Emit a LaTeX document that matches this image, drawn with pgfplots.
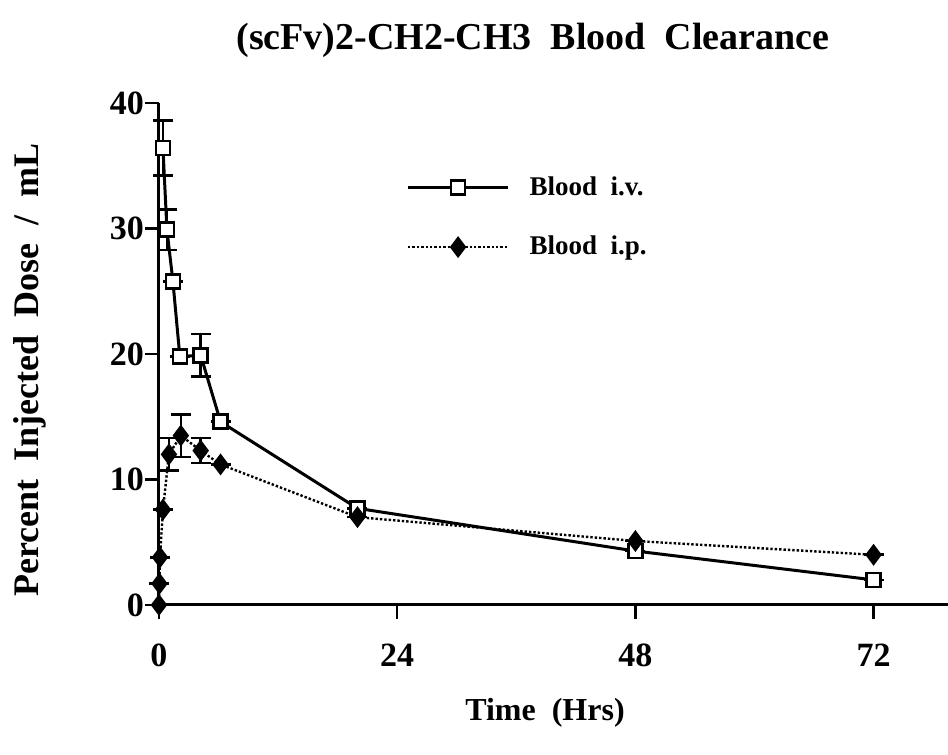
\documentclass[border=0pt]{standalone}
\usepackage{fontspec}
\setmainfont{Liberation Serif}
\usepackage{pgfplots}
\usepackage{pgfplotstable}
\pgfplotsset{compat=1.18}
\pgfplotstableread{
x y e
0.4 36.4 2.2
0.8 29.9 1.6
1.4 25.8 0
2.1 19.8 0
4.2 19.9 1.7
6.2 14.6 0
20 7.7 0
48 4.3 0
72 2.0 0
}\ivdata
\pgfplotstableread{
x y e
0 0 0
0.05 1.7 0
0.1 3.8 0
0.4 7.6 0
1.0 12.0 1.3
2.2 13.5 1.7
4.2 12.3 1.0
6.2 11.2 0
20 7.0 0
48 5.1 0
72 4.0 0
}\ipdata
\begin{document}
\begin{tikzpicture}[x=1pt,y=1pt]
\path[use as bounding box] (0,0) rectangle (474,377.5);
\begin{axis}[
  at={(79.5pt,75pt)}, anchor=south west,
  scale only axis, width=394.5pt, height=251pt,
  xmin=0, xmax=79.5, ymin=0, ymax=40,
  axis x line=bottom, axis y line=left,
  axis line style={-, line width=1.5pt},
  xtick={0,24,48,72}, ytick={0,10,20,30,40},
  tick style={line width=1.3pt, black},
  major tick length=7pt,
  tick align=outside,
  clip=false,
  tick label style={font=\bfseries\fontsize{17}{20}\selectfont},
  xticklabel style={yshift=-9pt},
  yticklabel style={xshift=3pt},
  /pgf/number format/assume math mode=true,
  legend style={at={(axis cs:24.3,30.9)}, anchor=west, draw=none, fill=none,
    font=\bfseries\fontsize{13.5}{16}\selectfont, row sep=15pt,
    /tikz/every odd column/.append style={column sep=8pt}},
  legend cell align=left,
  legend image code/.code={\draw[mark repeat=2,mark phase=2,#1] plot coordinates {(0pt,0pt) (25pt,0pt) (50pt,0pt)};},
]
\addplot[black, line width=1.5pt, mark=square*, mark size=3.5pt,
  mark options={fill=white, solid, line width=1.3pt},
  error bars/.cd, y dir=both, y explicit,
  error bar style={line width=1.3pt, solid},
  error mark options={rotate=90, mark size=5pt, line width=1.3pt}]
  table[x=x, y=y, y error=e] {\ivdata};
\addlegendentry{Blood\ \ i.v.}
\addplot[black, line width=1.2pt, densely dotted, mark=diamond*, mark size=4.5pt,
  mark options={fill=black, solid},
  error bars/.cd, y dir=both, y explicit,
  error bar style={line width=1.3pt, solid},
  error mark options={rotate=90, mark size=5pt, line width=1.3pt}]
  table[x=x, y=y, y error=e] {\ipdata};
\addlegendentry{Blood\ \ i.p.}
\end{axis}
\node[font=\bfseries\fontsize{19}{22}\selectfont] at (266.5,357.5) {(scFv)2-CH2-CH3\ \ Blood\ \ Clearance};
\node[font=\bfseries\fontsize{16}{19}\selectfont] at (272.5,21) {Time\ \ (Hrs)};
\node[font=\bfseries\fontsize{18}{21}\selectfont, rotate=90] at (15,192.5) {Percent\ \ Injected\ \ Dose\ \ /\ \ mL};
\end{tikzpicture}
\end{document}
